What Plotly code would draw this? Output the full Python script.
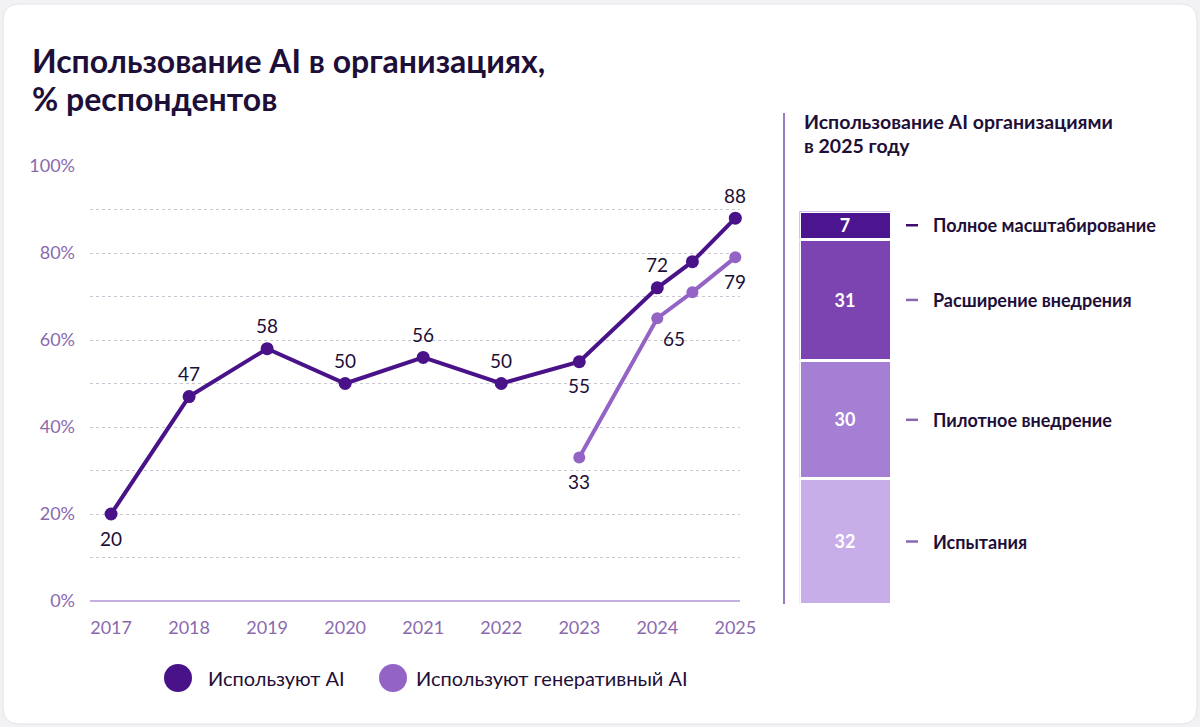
import plotly.graph_objects as go

W, H = 1200, 727

# ---- data ----
years_ai = [2017, 2018, 2019, 2020, 2021, 2022, 2023, 2024, 2024.45, 2025]
values_ai = [20, 47, 58, 50, 56, 50, 55, 72, 78, 88]
labels_ai = ["20", "47", "58", "50", "56", "50", "55", "72", "", "88"]
labelpos_ai = ["below", "above", "above", "above", "above", "above", "below", "above", "none", "above"]

years_gen = [2023, 2024, 2024.45, 2025]
values_gen = [33, 65, 71, 79]
labels_gen = ["33", "65", "", "79"]
labelpos_gen = ["below", "below-right", "none", "below"]

series_names = ["Используют AI", "Используют генеративный AI"]
series_colors = ["#4a1288", "#9363c6"]

tick_years = [2017, 2018, 2019, 2020, 2021, 2022, 2023, 2024, 2025]
tick_year_labels = [str(y) for y in tick_years]
y_ticks = [0, 20, 40, 60, 80, 100]
y_tick_labels = [f"{v}%" for v in y_ticks]

stage_names = ["Испытания", "Пилотное внедрение", "Расширение внедрения", "Полное масштабирование"]
stage_values = [32, 30, 31, 7]
stage_colors = ["#c8aee9", "#a57fd3", "#7b44b0", "#4b1590"]
stage_dash_colors = ["#8a68b4", "#8a68b4", "#8a68b4", "#3c0f70"]

title_lines = ["Использование AI в организациях,", "% респондентов"]
panel_title_lines = ["Использование AI организациями", "в 2025 году"]

FONT = "Lato"
DARK = "#1e0f38"
TICK = "#8a6aae"


def px(x):
    return x / W


def py(y):
    return 1 - y / H


fig = go.Figure()

# lines
fig.add_trace(go.Scatter(x=years_ai, y=values_ai, mode="lines+markers", name=series_names[0],
                         line=dict(color=series_colors[0], width=4),
                         marker=dict(size=13, color=series_colors[0]),
                         showlegend=False, cliponaxis=False))
fig.add_trace(go.Scatter(x=years_gen, y=values_gen, mode="lines+markers", name=series_names[1],
                         line=dict(color=series_colors[1], width=4),
                         marker=dict(size=12, color=series_colors[1]),
                         showlegend=False, cliponaxis=False))

annotations = []
shapes = []


def add_labels(xs, ys, labels, poss):
    for x, y, t, p in zip(xs, ys, labels, poss):
        if p == "none" or not t:
            continue
        xs_, ys_ = 0, 0
        if p == "above":
            ys_ = 23
        elif p == "below":
            ys_ = -24
        elif p == "below-right":
            ys_, xs_ = -20, 17
        annotations.append(dict(x=x, y=y, xref="x", yref="y", text=t, showarrow=False,
                                xshift=xs_, yshift=ys_,
                                font=dict(family=FONT, size=19, color=DARK)))


add_labels(years_ai, values_ai, labels_ai, labelpos_ai)
add_labels(years_gen, values_gen, labels_gen, labelpos_gen)

# stacked bar
for name, val, col in zip(stage_names, stage_values, stage_colors):
    fig.add_trace(go.Bar(x=[0], y=[val], name=name, xaxis="x2", yaxis="y2",
                         marker=dict(color=col, line=dict(color="white", width=3)),
                         width=1, text=[str(val)], textposition="inside",
                         insidetextanchor="middle", textangle=0,
                         textfont=dict(family=FONT, size=18, color="white", weight="bold"),
                         showlegend=False, hoverinfo="skip"))

cum = 0
for name, val, dcol in zip(stage_names, stage_values, stage_dash_colors):
    mid = cum + val / 2
    cum += val
    shapes.append(dict(type="line", xref="paper", yref="y2", x0=px(906), x1=px(918),
                       y0=mid, y1=mid, line=dict(color=dcol, width=2.5)))
    annotations.append(dict(x=px(931), y=mid, xref="paper", yref="y2", text=name, showarrow=False,
                            xanchor="left", font=dict(family=FONT, size=18, color=DARK, weight="bold")))

# titles
for line, yc in zip(title_lines, [60, 98]):
    annotations.append(dict(x=px(30), y=py(yc), xref="paper", yref="paper", text=line,
                            showarrow=False, xanchor="left", yanchor="middle",
                            font=dict(family=FONT, size=32, color=DARK, weight="bold")))
for line, yc in zip(panel_title_lines, [122, 145]):
    annotations.append(dict(x=px(802), y=py(yc), xref="paper", yref="paper", text=line,
                            showarrow=False, xanchor="left", yanchor="middle",
                            font=dict(family=FONT, size=19.5, color=DARK, weight="bold")))

# legend (custom)
legend_pos = [(178, 206), (393, 414)]
for (cx, tx), name, col in zip(legend_pos, series_names, series_colors):
    r = 14
    shapes.append(dict(type="circle", xref="paper", yref="paper",
                       x0=px(cx - r), x1=px(cx + r), y0=py(678 + r), y1=py(678 - r),
                       fillcolor=col, line=dict(width=0)))
    annotations.append(dict(x=px(tx), y=py(678), xref="paper", yref="paper", text=name,
                            showarrow=False, xanchor="left", yanchor="middle",
                            font=dict(family=FONT, size=20, color=DARK)))

# card background
x0, y0, x1, y1, rr = 3, 4, 1197, 724, 16
path = (f"M {px(x0 + rr)} {py(y0)} L {px(x1 - rr)} {py(y0)} Q {px(x1)} {py(y0)} {px(x1)} {py(y0 + rr)} "
        f"L {px(x1)} {py(y1 - rr)} Q {px(x1)} {py(y1)} {px(x1 - rr)} {py(y1)} "
        f"L {px(x0 + rr)} {py(y1)} Q {px(x0)} {py(y1)} {px(x0)} {py(y1 - rr)} "
        f"L {px(x0)} {py(y0 + rr)} Q {px(x0)} {py(y0)} {px(x0 + rr)} {py(y0)} Z")
shapes.insert(0, dict(type="path", path=path, xref="paper", yref="paper", layer="below",
                      fillcolor="white", line=dict(color="#e4e2e9", width=1)))
# separator line
shapes.append(dict(type="line", xref="paper", yref="paper", x0=px(784), x1=px(784),
                   y0=py(113), y1=py(604), line=dict(color="#9b7ac4", width=2)))

fig.update_layout(
    width=W, height=H, autosize=False, margin=dict(l=0, r=0, t=0, b=0, pad=0),
    paper_bgcolor="#f2f1f4", plot_bgcolor="rgba(0,0,0,0)",
    barmode="stack", bargap=0,
    font=dict(family=FONT, color=DARK),
    xaxis=dict(domain=[px(90), px(740)], range=[2016.73, 2025.06], automargin=False,
               tickvals=tick_years, ticktext=tick_year_labels, showgrid=False,
               zeroline=False, showline=False, ticks="", ticklabelstandoff=14,
               tickfont=dict(family=FONT, size=18, color=TICK)),
    yaxis=dict(domain=[py(601), py(166)], range=[0, 100], automargin=False,
               tickvals=y_ticks, ticktext=y_tick_labels,
               showgrid=True, gridcolor="#c9c7d1", griddash="dot", gridwidth=1,
               minor=dict(dtick=10, showgrid=True, gridcolor="#c9c7d1", griddash="dot", gridwidth=1),
               zeroline=True, zerolinecolor="#c3b0dc", zerolinewidth=1.5,
               showline=False, ticks="", ticklabelstandoff=14,
               tickfont=dict(family=FONT, size=18, color=TICK)),
    xaxis2=dict(domain=[px(799.5), px(891.5)], range=[-0.5, 0.5], visible=False, anchor="y2",
                automargin=False),
    yaxis2=dict(domain=[py(604.5), py(211.5)], range=[0, 100], visible=False, anchor="x2",
                automargin=False),
    annotations=annotations, shapes=shapes,
)

fig.write_html("out.html",
               post_script="document.body.style.margin='0';document.body.style.overflow='hidden';")
